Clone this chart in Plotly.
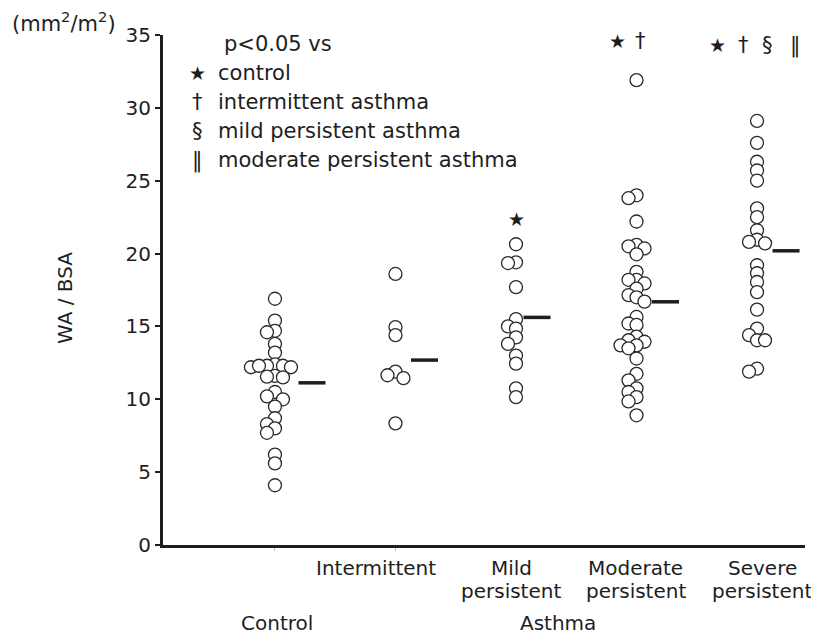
import plotly.graph_objects as go

# ---------------- data ----------------
categories = ["Control", "Intermittent", "Mild persistent", "Moderate persistent", "Severe persistent"]
control = [16.9, 15.4, 14.7, 14.6, 13.8, 13.2, 12.4, 12.3, 12.3, 12.2, 12.2, 12.3,
           11.6, 11.5, 11.55, 10.5, 10.2, 10.0, 9.5, 8.7, 8.3, 8.0, 7.7, 6.2, 5.6, 4.1]
intermittent = [18.6, 14.95, 14.4, 11.9, 11.65, 11.45, 8.35]
mild = [20.64, 19.4, 19.35, 17.7, 15.5, 15.0, 14.85, 14.25, 13.8, 13.0, 12.45, 10.75, 10.15]
moderate = [31.9, 24.0, 23.8, 22.2, 20.6, 20.5, 20.35, 19.95, 18.75, 18.2, 18.2, 17.95,
            17.6, 17.15, 17.0, 16.7, 15.65, 15.2, 15.1, 14.3, 14.05, 13.95, 13.7, 13.7,
            13.5, 12.8, 11.75, 11.3, 10.75, 10.5, 10.15, 9.85, 8.9]
severe = [29.1, 27.6, 26.3, 25.7, 25.0, 23.1, 22.5, 21.6, 20.95, 20.8, 20.7, 19.2,
          18.65, 18.05, 17.35, 16.15, 14.85, 14.4, 14.05, 14.05, 12.1, 11.9]
groups = [control, intermittent, mild, moderate, severe]
means = [11.13, 12.69, 15.62, 16.69, 20.19]

y_ticks = [0, 5, 10, 15, 20, 25, 30, 35]
x_label_line1 = ["", "Intermittent", "Mild", "Moderate", "Severe"]
x_label_line2 = ["", "", "persistent", "persistent", "persistent"]
group_labels = ["Control", "Asthma"]
sig_marks = {2: ["★"], 3: ["★", "†"], 4: ["★", "†", "§", "‖"]}
sig_y = {2: 22.4, 3: 34.6, 4: 34.3}
legend_title = "p<0.05 vs"
legend_symbols = ["★", "†", "§", "‖"]
legend_texts = ["control", "intermittent asthma", "mild persistent asthma", "moderate persistent asthma"]

# ---------------- layout geometry ----------------
OFF = 8                      # page body margin in the browser
W, H = 819 - OFF, 636 - OFF
L, R, T, B = 163 - OFF, 14, 35 - OFF, 91
PW, PH = W - L - R, H - T - B
XR = [-0.929, 4.398]
YR = [0, 35]
ppx = PW / (XR[1] - XR[0])
ppy = PH / (YR[1] - YR[0])
FONT = "DejaVu Sans, Verdana, sans-serif"
INK = "#1e1e1e"
FS = 20
FS_LEG = 21
STAR = 19


def swarm(vals, step=8.0, mind=8.0):
    n = len(vals)
    offs = [0.0] * n
    placed = []
    order = sorted(range(n), key=lambda i: -vals[i])
    cands = [0]
    for k in range(1, 12):
        cands += [-k, k]
    for i in order:
        yv = vals[i] * ppy
        for k in cands:
            ox = k * step
            if all((ox - px) ** 2 + (yv - py) ** 2 >= mind ** 2 for px, py in placed):
                break
        placed.append((ox, yv))
        offs[i] = ox
    return offs


def pxx(px):
    return (px - OFF - L) / PW


def pxy(py):
    return (H - B - (py - OFF)) / PH


def fnt(size=FS):
    return dict(size=size, color=INK, family=FONT)


fig = go.Figure()

for gi, vals in enumerate(groups):
    offs = swarm(vals)
    xs = [gi + o / ppx for o in offs]
    fig.add_trace(go.Scatter(
        x=xs, y=vals, mode="markers",
        marker=dict(size=13, color="white", line=dict(color="#2a2a2a", width=1.3)),
        showlegend=False, hoverinfo="y"))
    start = gi + (max(offs) + 7.5) / ppx
    fig.add_trace(go.Scatter(
        x=[start, start + 27 / ppx], y=[means[gi], means[gi]], mode="lines",
        line=dict(color=INK, width=3.5), showlegend=False, hoverinfo="skip"))

ann = []
label_shift = [2, -19, -5, -1, 5]
for gi in range(1, 5):
    ann.append(dict(x=gi, y=pxy(568), xref="x", yref="paper", xshift=label_shift[gi],
                    text=x_label_line1[gi], showarrow=False, yanchor="middle", font=fnt()))
    if x_label_line2[gi]:
        ann.append(dict(x=gi, y=pxy(591), xref="x", yref="paper", xshift=label_shift[gi],
                        text=x_label_line2[gi], showarrow=False, yanchor="middle", font=fnt()))
ann.append(dict(x=0, y=pxy(623), xref="x", yref="paper", xshift=label_shift[0],
                text=group_labels[0], showarrow=False, yanchor="middle", font=fnt()))
ann.append(dict(x=pxx(558), y=pxy(623), xref="paper", yref="paper",
                text=group_labels[1], showarrow=False, yanchor="middle", font=fnt()))

# significance marks above groups
sig_shift = {2: [0], 3: [-19, 4], 4: [-40, -14, 10, 38]}
for gi, syms in sig_marks.items():
    for s, dx in zip(syms, sig_shift[gi]):
        ann.append(dict(x=gi, y=sig_y[gi], xref="x", yref="y", text=s, showarrow=False,
                        xanchor="center", yanchor="middle", xshift=dx,
                        font=fnt(STAR if s == "★" else FS_LEG)))

# legend block
ann.append(dict(x=pxx(222), y=pxy(44), xref="paper", yref="paper",
                text=legend_title, showarrow=False, xanchor="left", yanchor="middle",
                font=fnt(FS_LEG)))
leg_y = [73, 102, 131, 160]
for s, t, yy in zip(legend_symbols, legend_texts, leg_y):
    ann.append(dict(x=pxx(197), y=pxy(yy), xref="paper", yref="paper",
                    text=s, showarrow=False, xanchor="center", yanchor="middle",
                    font=fnt(STAR if s == "★" else FS_LEG)))
    ann.append(dict(x=pxx(216), y=pxy(yy), xref="paper", yref="paper",
                    text=t, showarrow=False, xanchor="left", yanchor="middle",
                    font=fnt(FS_LEG)))

# units + y title
ann.append(dict(x=pxx(10), y=pxy(22), xref="paper", yref="paper",
                text="(mm<sup>2</sup>/m<sup>2</sup>)", showarrow=False, xanchor="left",
                yanchor="middle", font=fnt(21)))
ann.append(dict(x=pxx(65), y=pxy(298), xref="paper", yref="paper",
                text="WA / BSA", textangle=-90, showarrow=False, xanchor="center",
                yanchor="middle", font=fnt()))

fig.update_layout(
    width=W, height=H, margin=dict(l=L, r=R, t=T, b=B, pad=0),
    paper_bgcolor="white", plot_bgcolor="white",
    font=dict(family=FONT, color=INK, size=FS),
    annotations=ann,
    xaxis=dict(range=XR, showgrid=False, zeroline=False, showline=True, linewidth=3,
               linecolor=INK, tickvals=[0, 1], ticks="outside", ticklen=3, tickwidth=1,
               tickcolor="#bbbbbb", showticklabels=False, fixedrange=True),
    yaxis=dict(range=YR, showgrid=False, zeroline=False, showline=True, linewidth=3,
               linecolor=INK, tickvals=y_ticks, ticks="outside", ticklen=5, tickwidth=2,
               tickcolor=INK, tickfont=fnt(), fixedrange=True),
)

fig.write_html("out.html")
